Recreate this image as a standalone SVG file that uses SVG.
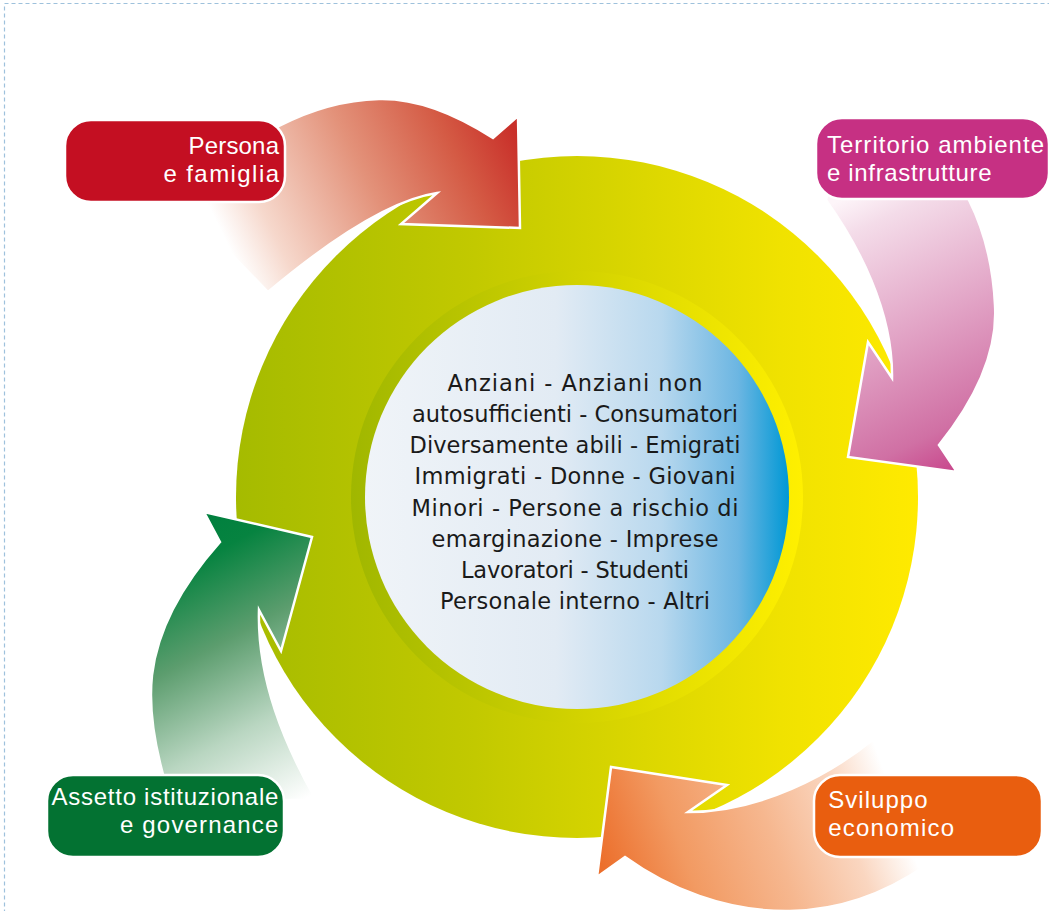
<svg xmlns="http://www.w3.org/2000/svg" width="1049" height="911" viewBox="0 0 1049 911">
<defs>
<linearGradient id="gRing" gradientUnits="userSpaceOnUse" x1="236" y1="0" x2="918" y2="0">
<stop offset="0" stop-color="#a5bb00"/><stop offset="0.35" stop-color="#c2c900"/><stop offset="0.6" stop-color="#dcd700"/><stop offset="0.8" stop-color="#f0e200"/><stop offset="1" stop-color="#ffea00"/>
</linearGradient>
<linearGradient id="gBand" gradientUnits="userSpaceOnUse" x1="351" y1="0" x2="803" y2="0">
<stop offset="0" stop-color="#a0b700"/><stop offset="0.5" stop-color="#d2d200"/><stop offset="1" stop-color="#fff000"/>
</linearGradient>
<linearGradient id="gCore" gradientUnits="userSpaceOnUse" x1="365" y1="0" x2="789" y2="0">
<stop offset="0" stop-color="#f0f4f8"/><stop offset="0.45" stop-color="#e2ebf4"/><stop offset="0.7" stop-color="#b8d8ee"/><stop offset="0.88" stop-color="#6cb6e2"/><stop offset="1" stop-color="#0098d5"/>
</linearGradient>
<linearGradient id="gRed" gradientUnits="userSpaceOnUse" x1="240" y1="270" x2="515" y2="135">
<stop offset="0" stop-color="#ffffff"/><stop offset="0.15" stop-color="#f6d8cc"/><stop offset="0.5" stop-color="#e3927a"/><stop offset="0.8" stop-color="#d45a44"/><stop offset="1" stop-color="#c9302a"/>
</linearGradient>
<linearGradient id="gPink" gradientUnits="userSpaceOnUse" x1="830" y1="205" x2="960" y2="470">
<stop offset="0" stop-color="#fdf5f9"/><stop offset="0.12" stop-color="#f4dce9"/><stop offset="0.5" stop-color="#e2a4c6"/><stop offset="0.85" stop-color="#d070a4"/><stop offset="1" stop-color="#c8458b"/>
</linearGradient>
<linearGradient id="gGreen" gradientUnits="userSpaceOnUse" x1="200" y1="520" x2="340" y2="780">
<stop offset="0" stop-color="#00803e"/><stop offset="0.12" stop-color="#068340"/><stop offset="0.4" stop-color="#5c9d6e"/><stop offset="0.7" stop-color="#b9d6c1"/><stop offset="1" stop-color="#ffffff"/>
</linearGradient>
<linearGradient id="gOrange" gradientUnits="userSpaceOnUse" x1="600" y1="860" x2="880" y2="760">
<stop offset="0" stop-color="#ec6f2c"/><stop offset="0.27" stop-color="#f29a62"/><stop offset="0.57" stop-color="#f6b78f"/><stop offset="0.82" stop-color="#fad6c0"/><stop offset="1" stop-color="#ffffff"/>
</linearGradient>
<style>
.arrow{stroke:#ffffff;stroke-width:2.5;stroke-linejoin:miter}
.box{stroke:#ffffff;stroke-width:2.5}
.lbl{font-family:"Liberation Sans",Arial,sans-serif;font-size:24px;fill:#ffffff}
.core{font-family:"DejaVu Sans",sans-serif;font-size:22.5px;fill:#1a1a1a;text-anchor:middle}
</style>
</defs>
<rect x="4.5" y="3.5" width="1100" height="1000" fill="none" stroke="#9ec1dc" stroke-width="1.2" stroke-dasharray="4 3"/>
<g id="center">
<circle cx="577" cy="497" r="341" fill="url(#gRing)"/>
<circle cx="577" cy="497" r="226" fill="url(#gBand)"/>
<circle cx="577" cy="497" r="212" fill="url(#gCore)"/>
<text class="core" x="575" y="390.5" textLength="255" lengthAdjust="spacing">Anziani - Anziani non</text>
<text class="core" x="575" y="421.7" textLength="326" lengthAdjust="spacing">autosufficienti - Consumatori</text>
<text class="core" x="575" y="453" textLength="331" lengthAdjust="spacing">Diversamente abili - Emigrati</text>
<text class="core" x="575" y="484.2" textLength="321" lengthAdjust="spacing">Immigrati - Donne - Giovani</text>
<text class="core" x="575" y="515.5" textLength="327" lengthAdjust="spacing">Minori - Persone a rischio di</text>
<text class="core" x="575" y="546.7" textLength="287" lengthAdjust="spacing">emarginazione - Imprese</text>
<text class="core" x="575" y="578" textLength="228" lengthAdjust="spacing">Lavoratori - Studenti</text>
<text class="core" x="575" y="609.2" textLength="270" lengthAdjust="spacing">Personale interno - Altri</text>
</g>
<g id="connectors">
<path class="arrow" fill="url(#gRed)" d="M 437,193 L 401,224 L 520,228 L 518,116 L 493,138 C 462,118 420,98 379,99 C 342,100 306,112 279,126 C 245,145 212,175 188,210 L 268,292 C 330,240 390,200 437,193 Z"/>
<path class="arrow" fill="url(#gPink)" d="M 892,378 L 868,342 L 848,457 L 957,472 L 939,445 C 975,400 998,352 995,305 C 993,262 983,228 969,200 L 962,185 L 830,185 L 826,200 C 858,245 893,310 892,378 Z"/>
<path class="arrow" fill="url(#gGreen)" d="M 259,610 L 281,651 L 312,537 L 204,512 L 220,542 C 188,578 158,625 152,675 C 148,712 155,748 166,785 L 170,800 L 316,800 C 285,745 257,680 259,610 Z"/>
<path class="arrow" fill="url(#gOrange)" d="M 688,812 L 727,785 L 611,767 L 597,877 L 625,857 C 668,888 725,912 790,911 C 845,910 890,890 925,866 L 950,845 L 875,738 C 830,775 760,812 688,812 Z"/>
</g>
<g id="persona">
<rect class="box" x="65" y="120" width="220" height="82" rx="26" fill="#c40f22"/>
<text class="lbl" x="279" y="154.4" text-anchor="end" textLength="90.5" lengthAdjust="spacing">Persona</text>
<text class="lbl" x="279" y="182.3" text-anchor="end" textLength="115.6" lengthAdjust="spacing">e famiglia</text>
</g>
<g id="territorio">
<rect class="box" x="816" y="118" width="233" height="81" rx="26" fill="#c63083"/>
<text class="lbl" x="827" y="152.7" textLength="217" lengthAdjust="spacing">Territorio ambiente</text>
<text class="lbl" x="827" y="180.6" textLength="164.6" lengthAdjust="spacing">e infrastrutture</text>
</g>
<g id="assetto">
<rect class="box" x="47" y="775" width="237" height="82" rx="26" fill="#037232"/>
<text class="lbl" x="278.3" y="805.4" text-anchor="end" textLength="226.7" lengthAdjust="spacing">Assetto istituzionale</text>
<text class="lbl" x="278.3" y="833.3" text-anchor="end" textLength="158.3" lengthAdjust="spacing">e governance</text>
</g>
<g id="sviluppo">
<rect class="box" x="814" y="775" width="228" height="82" rx="26" fill="#e95e0f"/>
<text class="lbl" x="828.3" y="807.7" textLength="99.3" lengthAdjust="spacing">Sviluppo</text>
<text class="lbl" x="828.3" y="835.6" textLength="125.7" lengthAdjust="spacing">economico</text>
</g>
</svg>
